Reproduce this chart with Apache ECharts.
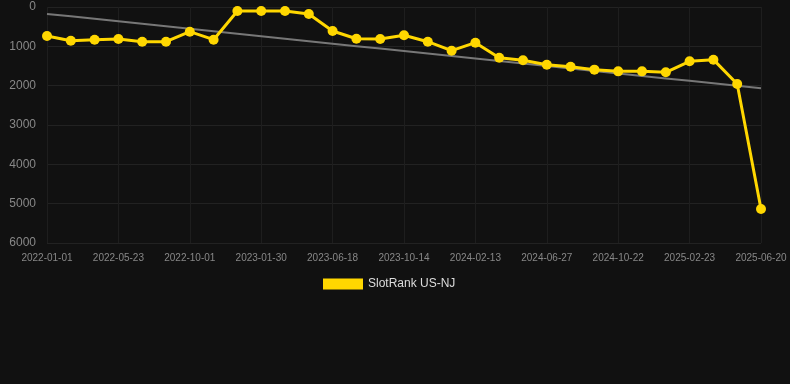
<!DOCTYPE html>
<html>
<head>
<meta charset="utf-8">
<script src="https://cdn.jsdelivr.net/npm/echarts@6/dist/echarts.min.js"></script>
<style>
html,body{margin:0;padding:0;background:#111111;}
#c{width:790px;height:384px;}
</style>
</head>
<body>
<div id="c"></div>
<script>
const categories = [
  '2022-01-01','2022-02-17','2022-04-05','2022-05-23','2022-07-02','2022-08-16',
  '2022-10-01','2022-11-10','2022-12-20','2023-01-30','2023-03-16','2023-05-02',
  '2023-06-18','2023-07-31','2023-09-02','2023-10-14','2023-11-28','2024-01-02',
  '2024-02-13','2024-03-30','2024-05-13','2024-06-27','2024-08-10','2024-09-16',
  '2024-10-22','2024-12-05','2025-01-14','2025-02-23','2025-04-05','2025-05-13',
  '2025-06-20'
];
const rankValues = [
  737, 857, 831, 814, 882, 882,
  628, 831, 102, 102, 102, 178,
  610, 806, 814, 720, 882, 1111,
  907, 1288, 1356, 1466, 1517, 1593,
  1636, 1636, 1661, 1381, 1339, 1958,
  5136
];
const yTicks = { min: 0, max: 6000, interval: 1000 };

// linear regression trend line computed from the data
const n = rankValues.length;
let sx = 0, sy = 0, sxy = 0, sxx = 0;
rankValues.forEach((v, i) => { sx += i; sy += v; sxy += i * v; sxx += i * i; });
const slope = (n * sxy - sx * sy) / (n * sxx - sx * sx);
const intercept = (sy - slope * sx) / n;
const trendValues = rankValues.map((v, i) => Math.round(intercept + slope * i));

const chart = echarts.init(document.getElementById('c'), null, { renderer: 'canvas' });
chart.setOption({
  backgroundColor: '#111111',
  animation: false,
  grid: { left: 47, right: 29, top: 7, bottom: 141 },
  legend: {
    data: [{ name: 'SlotRank US-NJ', icon: 'rect' }],
    top: 273,
    left: 318,
    itemWidth: 40,
    itemHeight: 11,
    itemGap: 10,
    textStyle: { color: '#dddddd', fontSize: 12, fontFamily: 'Arial, Liberation Sans, sans-serif' }
  },
  xAxis: {
    type: 'category',
    data: categories,
    boundaryGap: false,
    axisLine: { show: false },
    axisTick: { show: false },
    axisLabel: {
      interval: 2,
      color: '#888888',
      fontSize: 10,
      margin: 10,
      fontFamily: 'Arial, Liberation Sans, sans-serif'
    },
    splitLine: { show: true, interval: 2, lineStyle: { color: '#1e1e1e', width: 1 } }
  },
  yAxis: {
    type: 'value',
    inverse: true,
    min: yTicks.min,
    max: yTicks.max,
    interval: yTicks.interval,
    axisLine: { show: false },
    axisTick: { show: false },
    axisLabel: {
      color: '#888888',
      fontSize: 12,
      margin: 11,
      formatter: v => String(v),
      fontFamily: 'Arial, Liberation Sans, sans-serif'
    },
    splitLine: { show: true, lineStyle: { color: '#222222', width: 1 } }
  },
  series: [
    {
      name: 'Trend',
      type: 'line',
      data: trendValues,
      showSymbol: false,
      symbol: 'none',
      lineStyle: { color: '#777777', width: 2 },
      z: 1,
      silent: true
    },
    {
      name: 'SlotRank US-NJ',
      type: 'line',
      data: rankValues,
      symbol: 'circle',
      symbolSize: 10,
      itemStyle: { color: '#FFD700' },
      lineStyle: { color: '#FFD700', width: 3 },
      z: 2
    }
  ]
});
</script>
</body>
</html>
